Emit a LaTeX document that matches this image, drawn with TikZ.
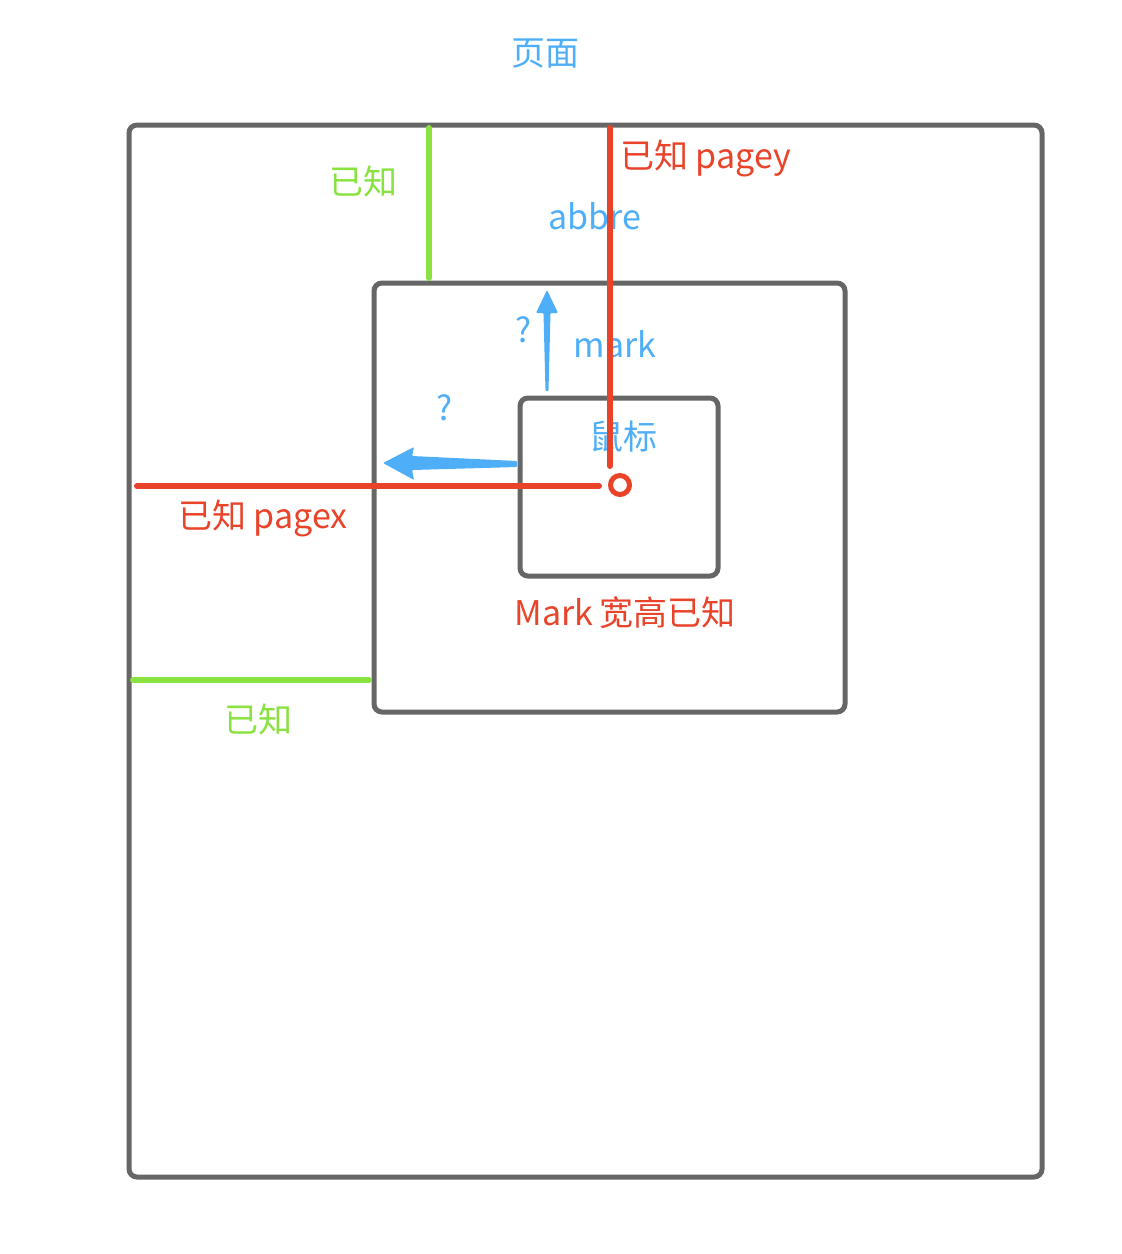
\documentclass[tikz,border=0pt]{standalone}
\usepackage{fontspec}
\setmainfont{Noto Sans CJK SC}
\definecolor{frame}{HTML}{666666}
\definecolor{kgreen}{HTML}{8AE241}
\definecolor{kred}{HTML}{E9432A}
\definecolor{kblue}{HTML}{4FAEF8}
\begin{document}
\begin{tikzpicture}[x=1pt,y=-1pt,
  boxst/.style={draw=frame,line width=5pt,rounded corners=8pt},
  gline/.style={draw=kgreen,line width=6pt,line cap=round},
  rline/.style={draw=kred,line width=6pt,line cap=round},
  lbl/.style={inner sep=0pt,font=\fontsize{34}{40}\selectfont},
  bl/.style={lbl,text=kblue},
  gl/.style={lbl,text=kgreen},
  rl/.style={lbl,text=kred}]
\useasboundingbox (0,0) rectangle (1122,1254);
% frames
\draw[boxst] (129,125) rectangle (1042,1177);
\draw[boxst] (374,283) rectangle (845,712);
\draw[boxst] (520,398) rectangle (718,576);
% green known lengths
\draw[gline] (429,128) -- (429,278);
\draw[gline] (133,680) -- (369,680);
% labels
\node[bl] (page) at (545,54) {页面};
\node[gl] (k1) at (363,182) {已知};
\node[gl] (k2) at (258,720) {已知};
\node[rl,anchor=west] (pagey) at (620,158) {已知 pagey};
\node[bl] (abbre) at (595,216) {abbre};
\node[bl] (q1) at (524,330) {?};
\node[bl] (q2) at (445,408) {?};
\node[bl] (mark) at (615,344) {mark};
\node[bl] (mouselbl) at (623,437) {鼠标};
\node[rl] (pagex) at (263,518) {已知 pagex};
\node[rl] (markwh) at (625,613) {Mark\,宽高已知};
% red lines
\draw[rline] (610,128) -- (610,466);
\draw[rline] (137,486) -- (599,486);
\node[circle,draw=kred,line width=5pt,minimum size=19pt,inner sep=0pt,fill=white] (mouse) at (620,485) {};
% blue arrows (tapered)
\fill[kblue,rounded corners=1pt] (545.5,391) -- (543.5,313) -- (536,313) -- (547,290) -- (558,313) -- (550.5,313) -- (548.5,391) -- cycle;
\fill[kblue,rounded corners=1pt] (517,461) -- (412,456) -- (414,447) -- (383,463) -- (414,480) -- (412,470) -- (517,467) -- cycle;
\end{tikzpicture}
\end{document}
